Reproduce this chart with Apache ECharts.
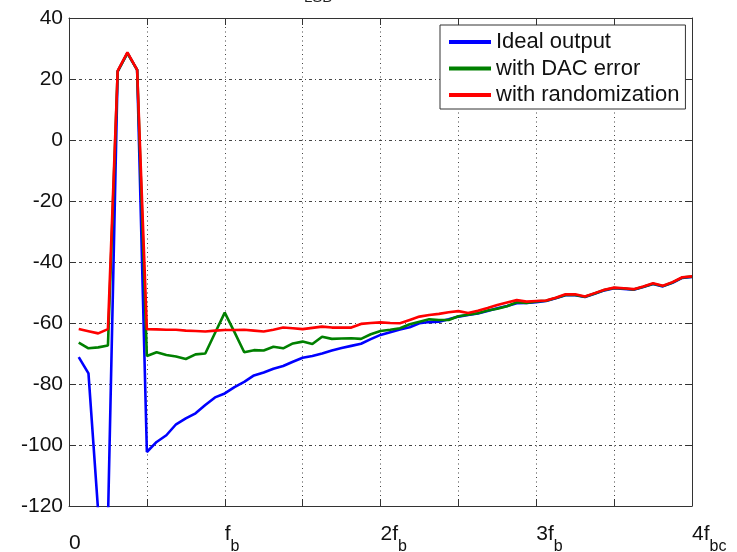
<!DOCTYPE html>
<html>
<head>
<meta charset="utf-8">
<script src="https://cdn.jsdelivr.net/npm/echarts@6/dist/echarts.min.js"></script>
<style>
  html, body { margin: 0; padding: 0; background: #fff; }
  #main { width: 737px; height: 552px; }
</style>
</head>
<body>
<div id="main"></div>
<script>
// 频点序号 (1..64，每 16 个为一个 fb)
const bins = [1, 2, 3, 4, 5, 6, 7, 8, 9, 10, 11, 12, 13, 14, 15, 16,
  17, 18, 19, 20, 21, 22, 23, 24, 25, 26, 27, 28, 29, 30, 31, 32,
  33, 34, 35, 36, 37, 38, 39, 40, 41, 42, 43, 44, 45, 46, 47, 48,
  49, 50, 51, 52, 53, 54, 55, 56, 57, 58, 59, 60, 61, 62, 63, 64]

const idealOutput = [-71.2, -76.5, -122, -125, 22.5, 28.5, 23, -102.3,
  -99, -96.8, -93.2, -91.3, -89.6, -86.9, -84.4, -83.1,
  -81, -79.3, -77.2, -76.2, -75, -74.1, -72.7, -71.4,
  -70.8, -70, -69, -68.2, -67.5, -66.8, -65.3, -63.9,
  -63, -62.1, -61.4, -60.1, -59.7, -59.6, -58.8, -57.9,
  -57.4, -56.9, -56.1, -55.2, -54.4, -53.5, -53.4, -53.2,
  -52.8, -51.9, -50.9, -50.9, -51.5, -50.4, -49.3, -48.6,
  -48.8, -49.1, -48.2, -47.2, -48, -46.8, -45.2, -44.9]

const dacError = [-66.4, -68.3, -68, -67.4, 22.5, 28.5, 23, -70.8,
  -69.6, -70.5, -71, -71.8, -70.3, -70, -63.3, -56.6,
  -63, -69.6, -68.9, -69, -67.8, -68.3, -66.7, -66.1,
  -66.9, -64.5, -65.2, -65.1, -65, -65.2, -63.7, -62.6,
  -62.2, -61.7, -60.4, -59.6, -58.8, -59, -59, -57.8,
  -57.3, -56.8, -55.9, -55.3, -54.5, -53.2, -53.4, -52.9,
  -52.7, -51.8, -50.8, -50.8, -51.4, -50.3, -49.2, -48.5,
  -48.7, -49, -48.1, -47.1, -47.9, -46.7, -45.1, -44.8]

const randomized = [-62, -62.7, -63.4, -62, 22.7, 28.7, 23, -62,
  -62.1, -62.2, -62.2, -62.5, -62.6, -62.8, -62.5, -62.3,
  -62.3, -62.2, -62.5, -62.8, -62.2, -61.5, -61.7, -62,
  -61.6, -61.2, -61.5, -61.5, -61.5, -60.3, -60, -59.8,
  -60, -60.1, -59, -57.9, -57.4, -57, -56.5, -56.1,
  -56.7, -56, -55.1, -54.1, -53.3, -52.5, -53, -52.8,
  -52.6, -51.7, -50.6, -50.6, -51.3, -50.2, -49.1, -48.4,
  -48.6, -48.9, -48, -47, -47.8, -46.6, -45, -44.7]

const seriesNames = ['Ideal output', 'with DAC error', 'with randomization']
const xTickValues = [0, 16, 32, 48, 64]
const xTickLabels = ['{z|0}', '{f|f}{s|b}{g|\u200b}', '{f|2f}{s|b}{g|\u200b}', '{f|3f}{s|b}{g|\u200b}', '{f|4f}{s|bc}{g|\u200b}']

const FONT = 'Liberation Sans, Arial, sans-serif'
const frameColor = '#333'

function pairs (ys) {
  return bins.map((b, i) => [b, ys[i]])
}

let chart = echarts.init(document.getElementById('main'), null, { renderer: 'canvas' })

let xCommon = {
  type: 'value',
  min: 0,
  max: 64,
  interval: 8,
  axisLine: { show: true, onZero: false, lineStyle: { color: frameColor, width: 1 } },
  axisTick: { show: true, inside: true, length: 7, lineStyle: { color: frameColor } },
}
let yCommon = {
  type: 'value',
  min: -120,
  max: 40,
  interval: 20,
  axisLine: { show: true, onZero: false, lineStyle: { color: frameColor, width: 1 } },
  axisTick: { show: true, inside: true, length: 7, lineStyle: { color: frameColor } },
}

let option = {
  backgroundColor: '#fff',
  animation: false,
  grid: { left: 69, right: 45, top: 18, bottom: 46, outerBoundsMode: 'none', containLabel: false },
  legend: {
    orient: 'vertical',
    left: 440,
    top: 25,
    padding: [6, 6, 3, 9],
    itemGap: 4.5,
    itemWidth: 42,
    itemHeight: 4,
    icon: 'rect',
    backgroundColor: '#fff',
    borderColor: frameColor,
    borderWidth: 1,
    borderRadius: 0,
    textStyle: { fontFamily: FONT, fontSize: 22, color: '#111' },
    data: seriesNames
  },
  graphic: [
    // 顶部被裁掉的标题残留
    { type: 'text', left: 287, top: -17, style: { text: 'f', font: '21px ' + FONT, fill: '#222' } },
    { type: 'text', left: 304, top: -10, style: { text: 'LSB', font: '15px ' + FONT, fill: '#222' } }
  ],
  xAxis: [
    Object.assign({}, xCommon, {
      position: 'bottom',
      axisLabel: {
        show: true,
        margin: 18,
        align: 'left',
        verticalAlign: 'top',
        color: '#111',
        fontFamily: FONT,
        fontSize: 21,
        formatter: v => {
          let i = xTickValues.indexOf(v)
          return i < 0 ? '' : xTickLabels[i]
        },
        rich: {
          z: { fontFamily: FONT, fontSize: 21, color: '#111', padding: [9, 0, 0, 0] },
          f: { fontFamily: FONT, fontSize: 21, lineHeight: 21, color: '#111', verticalAlign: 'top' },
          s: { fontFamily: FONT, fontSize: 16, lineHeight: 16, color: '#111', verticalAlign: 'bottom' },
          g: { fontSize: 10, lineHeight: 31 }
        }
      },
      splitLine: { show: true, lineStyle: { color: '#444', width: 1, type: [1, 3.5] } }
    }),
    Object.assign({}, xCommon, {
      position: 'top',
      axisLabel: { show: false },
      splitLine: { show: false }
    })
  ],
  yAxis: [
    Object.assign({}, yCommon, {
      position: 'left',
      axisLabel: { show: true, margin: 6, color: '#111', fontFamily: FONT, fontSize: 21 },
      splitLine: { show: true, lineStyle: { color: '#444', width: 1, type: [3, 3, 1, 3] } }
    }),
    Object.assign({}, yCommon, {
      position: 'right',
      axisLabel: { show: false },
      splitLine: { show: false }
    })
  ],
  series: [
    { name: seriesNames[0], type: 'line', data: pairs(idealOutput), color: '#0000ff' },
    { name: seriesNames[1], type: 'line', data: pairs(dacError), color: '#008000' },
    { name: seriesNames[2], type: 'line', data: pairs(randomized), color: '#ff0000' }
  ].map(s => Object.assign(s, {
    xAxisIndex: 0,
    yAxisIndex: 0,
    symbol: 'none',
    showSymbol: false,
    clip: true,
    lineStyle: { width: 2.6, color: s.color },
    itemStyle: { color: s.color },
    emphasis: { disabled: true }
  }))
}

option && chart.setOption(option)
</script>
</body>
</html>
